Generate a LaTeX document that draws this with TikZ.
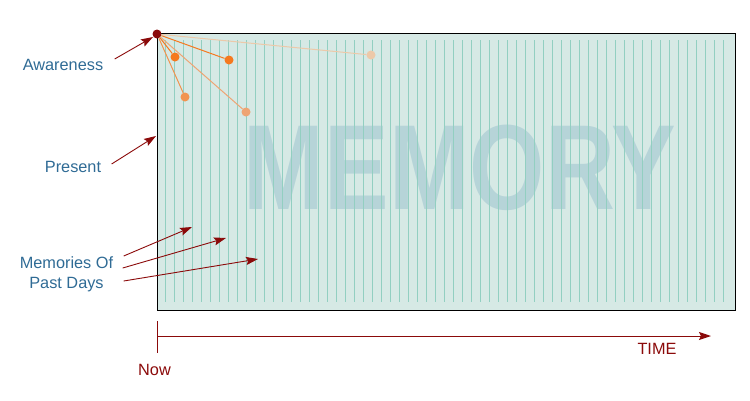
\documentclass[tikz,border=0pt]{standalone}
\usepackage{fontspec}
\setmainfont{Liberation Sans}
\usetikzlibrary{arrows.meta}
\definecolor{memred}{HTML}{8B0A0A}
\definecolor{memblue}{HTML}{2F6B95}
\definecolor{memfill}{HTML}{D6E9E5}
\definecolor{memgrid}{HTML}{92CFC1}
\definecolor{memtext}{HTML}{B6D4D8}
\definecolor{sparkA}{HTML}{F5791F}
\definecolor{sparkB}{HTML}{F19450}
\definecolor{sparkC}{HTML}{EFA473}
\definecolor{sparkD}{HTML}{EDC9A9}
\begin{document}
\begin{tikzpicture}[x=1pt,y=-1pt,>={Stealth[length=12pt,width=8pt,inset=2pt]},
    lbl/.style={text=memblue,font=\fontsize{16.3}{20}\selectfont,align=center},
    redlbl/.style={text=memred,font=\fontsize{16.3}{20}\selectfont},
    pointer/.style={->,memred,line width=0.9pt},
    spark/.style={circle,inner sep=0pt,minimum size=9pt}]
    \useasboundingbox (0,0) rectangle (750,400);
    % the memory box
    \fill[memfill] (157,33) rectangle (735,310);
    \node[text=memtext,font=\bfseries\fontsize{121}{121}\selectfont,inner sep=0pt] (memory) at (460,167.5) {\scalebox{0.8}[1]{MEMORY}};
    \foreach \i in {0,...,62}
        \draw[memgrid,line width=0.9pt] ({165+9*\i},40) -- ({165+9*\i},302);
    \draw[line width=1pt] (157,33) rectangle (735,310);
    %
    \node[spark,fill=memred] (present) at (157,34) {};
    \foreach \nm/\px/\py/\col in {a/175/57/sparkA,b/229/60/sparkA,c/185/97/sparkB,d/246/112/sparkC,e/371/55/sparkD} {
        \node[spark,fill=\col] (\nm) at (\px,\py) {};
        \draw[\col,line width=1pt] (present) -- (\nm);
    }
    %
    \node[lbl] (aware) at (63,64.5) {Awareness};
    \coordinate (awaretip) at (153,37);
    \draw[pointer] ([shift={(8,-5.5)}]aware.east) -- (awaretip);
    \node[lbl] (now) at (73,167) {Present};
    \coordinate (nowtip) at (156,136);
    \draw[pointer] ([shift={(7,-3)}]now.east) -- (nowtip);
    \node[lbl] (past) at (66.5,274) {Memories Of\\Past Days};
    \coordinate (pasttipa) at (192,227);
    \coordinate (pasttipb) at (226,238);
    \coordinate (pasttipc) at (258,259);
    \draw[pointer] ([shift={(7,-18)}]past.east) -- (pasttipa);
    \draw[pointer] ([shift={(6,-6)}]past.east) -- (pasttipb);
    \draw[pointer] ([shift={(7,7)}]past.east) -- (pasttipc);
    %
    \coordinate (origin) at (157,336);
    \coordinate (timeend) at (711,336);
    \draw[memred,line width=1pt] (157,321) -- (157,353);
    \draw[memred,line width=1pt,-{Stealth[length=12pt,width=8pt,inset=2pt]}] (origin) -- (timeend);
    \node[redlbl] (timelbl) at (657,348.5) {TIME};
    \node[redlbl] (nowlbl) at (154.5,369.5) {Now};
\end{tikzpicture}
\end{document}
